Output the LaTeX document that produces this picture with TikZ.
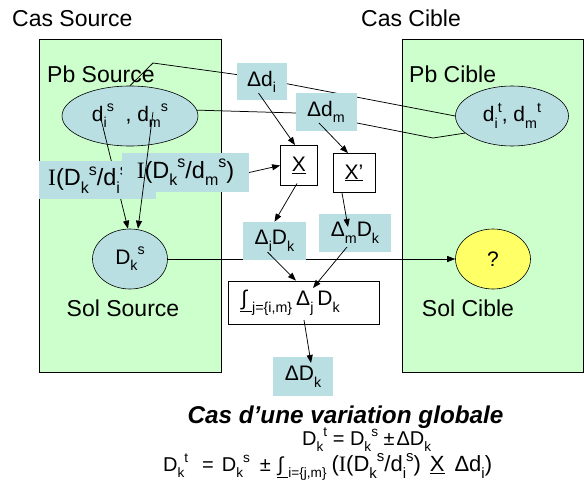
\documentclass[tikz,border=0pt]{standalone}
\usepackage{fontspec}
\setmainfont{Liberation Sans}
\newfontfamily\serifI{Liberation Serif}
\usetikzlibrary{shapes.geometric,arrows.meta}
\pgfdeclarelayer{greenlayer}
\pgfdeclarelayer{linelayer}
\pgfdeclarelayer{toplayer}
\pgfsetlayers{greenlayer,linelayer,main,toplayer}
\definecolor{boxgreen}{RGB}{204,255,204}
\definecolor{boxblue}{RGB}{185,223,227}
\definecolor{ansyellow}{RGB}{255,255,102}
\newcommand{\lo}[1]{\raisebox{-0.32em}{\scalebox{0.68}{#1}}}
\newcommand{\hi}[1]{\raisebox{0.45em}{\scalebox{0.68}{#1}}}
\newcommand{\sbp}[2]{\lo{#1}\hi{#2}}
\newcommand{\Ii}{{\serifI I}}
\newcommand{\intu}{\underline{\hspace{1pt}∫\hspace{5pt}}}
\begin{document}
\begin{tikzpicture}[x=1pt,y=-1pt,
  lab/.style={font=\fontsize{23}{27}\selectfont, inner sep=0pt},
  bluebox/.style={fill=boxblue, draw=none, inner sep=0pt, font=\fontsize{21}{25}\selectfont},
  wbox/.style={fill=white, draw=black, line width=0.8pt, inner sep=0pt, font=\fontsize{21}{25}\selectfont},
  ell/.style={ellipse, draw=black, line width=0.6pt, fill=boxblue, inner sep=0pt, font=\fontsize{21}{25}\selectfont},
  conn/.style={line width=0.75pt},
  arr/.style={conn, -{Triangle[length=8pt,width=6pt]}},
  eqtext/.style={font=\fontsize{20}{24}\selectfont, inner sep=0pt}
]
\useasboundingbox (0,0) rectangle (584,495);

\begin{pgfonlayer}{greenlayer}
\draw[fill=boxgreen, line width=0.8pt] (39,39) rectangle (221,372);
\draw[fill=boxgreen, line width=0.8pt] (402,39) rectangle (583,372);
\node[ell, minimum width=136pt, minimum height=60pt] (src) at (130,116) {d\sbp{i}{s}\ \ , d\sbp{m}{s}};
\end{pgfonlayer}

% labels
\node[lab, anchor=base west] (cs) at (12,27) {Cas Source};
\node[lab, anchor=base] (cc) at (411,27) {Cas Cible};
\node[lab, anchor=base west] (pbs) at (47,83) {Pb Source};
\node[lab, anchor=base west] (pbc) at (409,83) {Pb Cible};
\node[lab, anchor=base] (sols) at (123,316.5) {Sol Source};
\node[lab, anchor=base] (solc) at (468,316) {Sol Cible};

% ellipses
\node[ell, minimum width=113pt, minimum height=60pt] (tgt) at (512,116) {d\sbp{i}{t}, d\sbp{m}{t}};
\node[ell, minimum width=75pt, minimum height=60pt] (Dks) at (130,259) {D\sbp{k}{s}};
\node[ell, fill=ansyellow, minimum width=75pt, minimum height=60pt] (q) at (493,259) {?};

% boxes
\node[bluebox, minimum width=50pt, minimum height=37pt] (di) at (261.5,82) {Δd\lo{i}};
\node[bluebox, minimum width=61pt, minimum height=37pt] (dm) at (326,112) {Δd\lo{m}};
\node[wbox, minimum width=37pt, minimum height=40pt] (X) at (299,165.5) {\underline{X}};
\node[wbox, minimum width=42pt, minimum height=39pt] (Xp) at (354,173) {\underline{X’}};
\node[bluebox, anchor=west, minimum height=38pt, inner xsep=9pt, text width=99pt, align=left, font=\fontsize{23.5}{27}\selectfont] (ib1) at (39,180) {\Ii(D\sbp{k}{s}/d\sbp{i}{s})};
\node[bluebox, minimum width=127pt, minimum height=39pt, font=\fontsize{23.5}{27}\selectfont] (ib2) at (185.5,172.5) {\Ii(D\sbp{k}{s}/d\sbp{m}{s})};
\node[bluebox, minimum width=63pt, minimum height=38pt] (diDk) at (274.5,241) {Δ\lo{i}D\lo{k}};
\node[bluebox, minimum width=72pt, minimum height=38pt] (dmDk) at (355,233) {Δ\lo{m}D\lo{k}};
\node[wbox, anchor=west, minimum height=43pt, inner xsep=12pt, text width=127pt, align=left] (sum) at (228,302.5) {\intu\lo{j=\{i,m\}}\hspace{4pt}Δ\lo{j}\hspace{4pt}D\lo{k}};
\node[bluebox, minimum width=60pt, minimum height=39pt] (DDk) at (303,376.5) {ΔD\lo{k}};

% bottom text
\node[font=\bfseries\itshape\fontsize{24.3}{28}\selectfont, inner sep=0pt, anchor=base] (title) at (345.5,423) {Cas d’une variation globale};
\node[eqtext, anchor=base west] (eq1) at (302,445) {D\sbp{k}{t} = D\sbp{k}{s} ±\hspace{2pt}ΔD\lo{k}};
\node[eqtext, anchor=base west] (eq2) at (163,471.5) {D\sbp{k}{t}\hspace{14pt}=\hspace{8pt}D\sbp{k}{s}\hspace{10pt}±\hspace{6pt}\intu\lo{i=\{j,m\}}\hspace{5pt}{\fontsize{22}{26}\selectfont(\Ii(D\sbp{k}{s}/d\sbp{i}{s})\hspace{9pt}\underline{X}\hspace{10pt}Δd\lo{i})}};

% connectors behind
\coordinate (k1) at (153,63);
\coordinate (k2) at (240,75);
\coordinate (k3) at (283,83);
\coordinate (m1) at (296,113);
\coordinate (m2) at (357,123);
\coordinate (m3) at (433,138);
\coordinate (s1) at (100,115);
\coordinate (s2) at (153,112);
\begin{pgfonlayer}{linelayer}
\draw[conn] (src.north) -- (k1) -- (k2) -- (k3) -- (tgt.west);
\draw[conn] (src.5) -- (m1) -- (m2) -- (m3) -- (tgt.200);
\draw[arr] (s1) -- ([xshift=-2pt]Dks.north);
\draw[arr] (Dks.east) -- (q.west);
\draw[arr] (ib2.east) -- (X.west);
\end{pgfonlayer}

% connectors on top
\begin{pgfonlayer}{toplayer}
\draw[arr] (s2) -- ([xshift=8pt]Dks.north);
\draw[arr] ([shift={(-3,11)}]di.center) -- ([xshift=-4pt]X.north);
\draw[arr] ([shift={(-7,11)}]dm.center) -- ([xshift=-6pt]Xp.north);
\draw[arr] ([shift={(-2,18)}]X.center) -- (diDk.north);
\draw[arr] ([xshift=-12pt]Xp.south) -- ([shift={(-7,-6)}]dmDk.center);
\draw[arr] ([shift={(-7,11)}]diDk.center) -- ([xshift=-8pt]sum.north);
\draw[arr] ([shift={(-8,14)}]dmDk.center) -- ([shift={(85,-14.5)}]sum.west);
\draw[arr] ([shift={(76,17.5)}]sum.west) -- ([shift={(8,-13.5)}]DDk.center);
\end{pgfonlayer}
\end{tikzpicture}
\end{document}
